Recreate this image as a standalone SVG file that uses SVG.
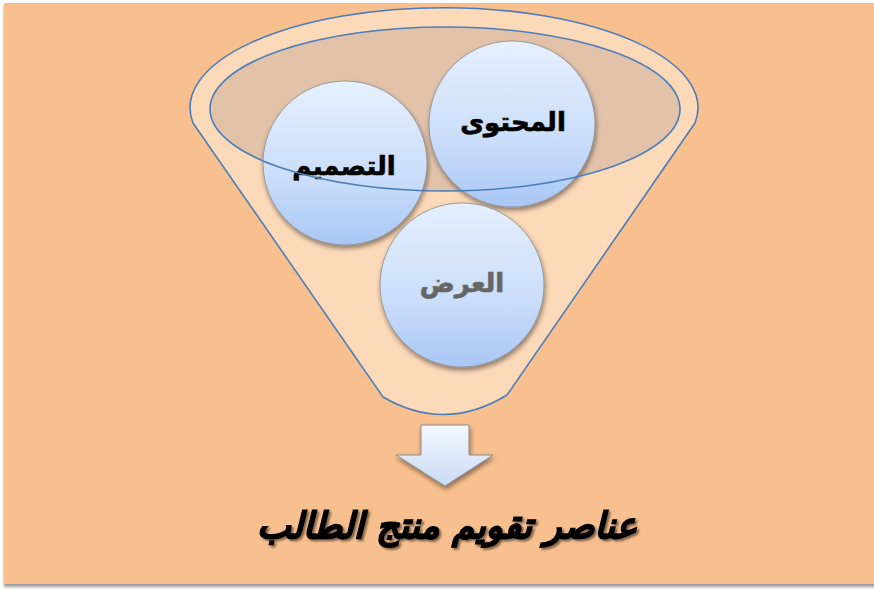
<svg xmlns="http://www.w3.org/2000/svg" width="874" height="590" viewBox="0 0 874 590">
  <defs>
    <linearGradient id="ballGrad" x1="0" y1="0" x2="0" y2="1">
      <stop offset="0" stop-color="#E6F0FE"/>
      <stop offset="0.6" stop-color="#CADDFA"/>
      <stop offset="1" stop-color="#A9C7F5"/>
    </linearGradient>
    <linearGradient id="arrowGrad" x1="0" y1="0" x2="0" y2="1">
      <stop offset="0" stop-color="#F4F8FE"/>
      <stop offset="1" stop-color="#C9DBF7"/>
    </linearGradient>
    <filter id="shadow" x="-20%" y="-20%" width="140%" height="140%">
      <feGaussianBlur in="SourceAlpha" stdDeviation="2.5"/>
      <feOffset dx="1" dy="3" result="b"/>
      <feComponentTransfer><feFuncA type="linear" slope="0.45"/></feComponentTransfer>
      <feMerge><feMergeNode/><feMergeNode in="SourceGraphic"/></feMerge>
    </filter>
    <filter id="textShadow" x="-10%" y="-30%" width="120%" height="160%">
      <feGaussianBlur in="SourceAlpha" stdDeviation="1.2"/>
      <feOffset dx="2" dy="2" result="b"/>
      <feComponentTransfer><feFuncA type="linear" slope="0.5"/></feComponentTransfer>
      <feMerge><feMergeNode/><feMergeNode in="SourceGraphic"/></feMerge>
    </filter>
    <filter id="pageShadow" x="-5%" y="-5%" width="110%" height="110%">
      <feGaussianBlur in="SourceAlpha" stdDeviation="1.5"/>
      <feOffset dx="0" dy="3" result="b"/>
      <feComponentTransfer><feFuncA type="linear" slope="0.4"/></feComponentTransfer>
      <feMerge><feMergeNode/><feMergeNode in="SourceGraphic"/></feMerge>
    </filter>
  </defs>
  <style>
    .ball { fill: url(#ballGrad); stroke: #8C8C8C; stroke-width: 0.8; filter: url(#shadow); }
    .lbl { font-family: "DejaVu Sans", sans-serif; font-weight: bold; font-size: 26px; text-anchor: middle; direction: rtl; stroke-width: 0.7; }
    .funnelLine { stroke: #4A7EBB; stroke-width: 1.6; }
  </style>

  <rect x="0" y="0" width="874" height="590" fill="#FFFFFF"/>
  <rect x="4" y="3" width="872" height="581" fill="#F9C08F" filter="url(#pageShadow)"/>

  <g id="funnel">
    <path class="funnelLine" d="M193,123 A254,100 0 1 1 695,123 L507,395 Q445,433 383,397 Z" fill="#FCD9B8"/>
    <ellipse cx="445" cy="109" rx="235" ry="82" fill="#E2C3AA"/>
  </g>

  <g id="node-design">
    <circle class="ball" cx="345" cy="163" r="82"/>
    <text class="lbl" x="344" y="175" fill="#000000" stroke="#000000">التصميم</text>
  </g>
  <g id="node-content">
    <circle class="ball" cx="512" cy="124" r="83"/>
    <text class="lbl" x="513" y="131" fill="#000000" stroke="#000000">المحتوى</text>
  </g>
  <g id="node-display">
    <circle class="ball" cx="462" cy="285" r="82"/>
    <text class="lbl" x="462" y="292" fill="#666666" stroke="#666666">العرض</text>
  </g>

  <g id="connectors">
    <ellipse class="funnelLine" cx="445" cy="109" rx="235" ry="82" fill="none"/>
    <path d="M421,425 L469,425 L469,455 L493,455 L445,486 L396,455 L421,455 Z" fill="url(#arrowGrad)" stroke="#8C8C8C" stroke-width="1" filter="url(#shadow)"/>
  </g>

  <g id="title">
    <text x="447" y="538" font-family="DejaVu Sans, sans-serif" font-weight="bold" font-style="italic" font-size="36" text-anchor="middle" direction="rtl" fill="#000000" stroke="#000000" stroke-width="1.2" filter="url(#textShadow)" textLength="380" lengthAdjust="spacingAndGlyphs">عناصر تقويم منتج الطالب</text>
  </g>
</svg>
